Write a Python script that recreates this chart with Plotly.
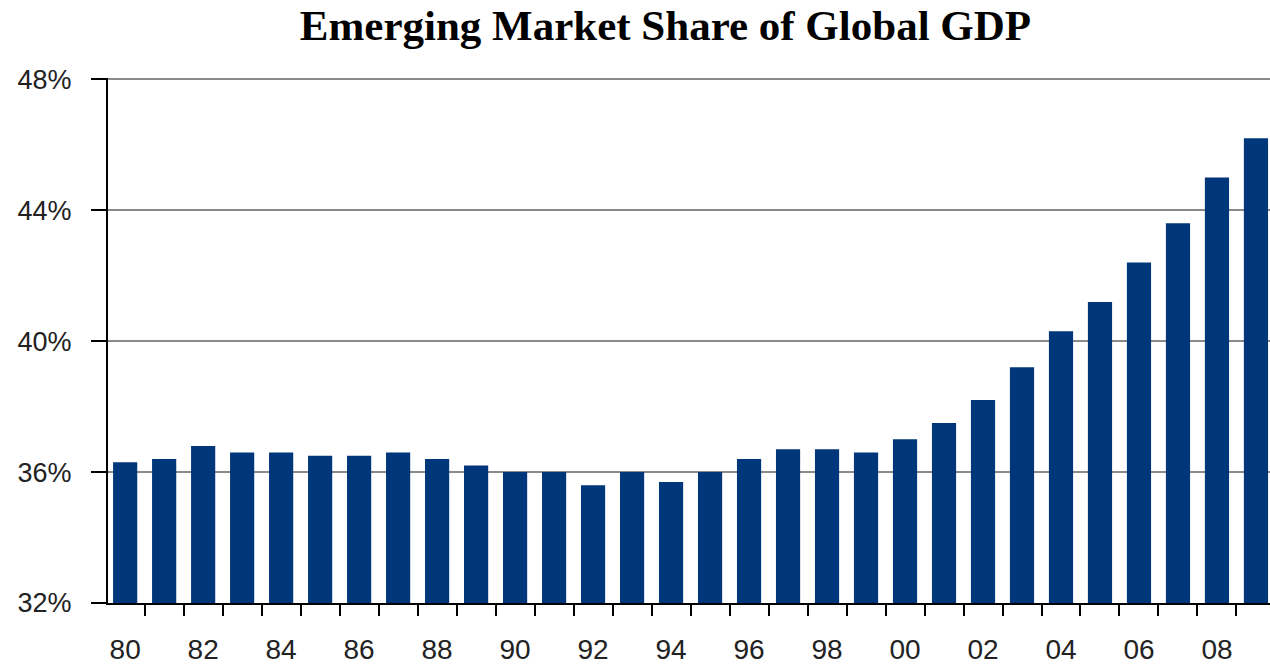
import plotly.graph_objects as go

years = ["80", "81", "82", "83", "84", "85", "86", "87", "88", "89",
         "90", "91", "92", "93", "94", "95", "96", "97", "98", "99",
         "00", "01", "02", "03", "04", "05", "06", "07", "08", "09"]
share = [36.3, 36.4, 36.8, 36.6, 36.6, 36.5, 36.5, 36.6, 36.4, 36.2,
         36.0, 36.0, 35.6, 36.0, 35.7, 36.0, 36.4, 36.7, 36.7, 36.6,
         37.0, 37.5, 38.2, 39.2, 40.3, 41.2, 42.4, 43.6, 45.0, 46.2]
tick_labels = [y if i % 2 == 0 else "" for i, y in enumerate(years)]
y_ticks = [32, 36, 40, 44, 48]

fig = go.Figure(go.Bar(
    x=years, y=share, marker=dict(color="#00377a", line=dict(width=0)),
))

fig.update_layout(
    width=1270, height=667,
    margin=dict(l=108, r=0, t=78, b=64, autoexpand=False),
    paper_bgcolor="white", plot_bgcolor="white",
    bargap=0.38, showlegend=False,
    title=dict(text="<b>Emerging Market Share of Global GDP</b>",
               x=0.524, xanchor="center", y=0.962, yanchor="middle",
               font=dict(family="Liberation Serif", size=43, color="black")),
)
fig.update_xaxes(
    type="category", categoryorder="array", categoryarray=years,
    range=[-0.44, 29.36], automargin=False,
    tickmode="array", tickvals=years, ticktext=tick_labels,
    tickson="boundaries", ticks="outside", ticklen=11, tickwidth=2, tickcolor="black",
    showline=True, linecolor="black", linewidth=2,
    showgrid=False, tickangle=0,
    tickfont=dict(family="Liberation Sans", size=28, color="#222"),
    ticklabelstandoff=20,
)
fig.update_yaxes(
    range=[32, 48.04], automargin=False,
    tickmode="array", tickvals=y_ticks,
    ticktext=[f"{v}%" for v in y_ticks],
    ticks="outside", ticklen=15, tickwidth=2, tickcolor="black",
    showline=True, linecolor="black", linewidth=2,
    showgrid=True, gridcolor="#8a8a8a", gridwidth=2,
    zeroline=False,
    tickfont=dict(family="Liberation Sans", size=27, color="#222"),
    ticklabelstandoff=14,
)

fig.write_html("out.html", config={"displayModeBar": False},
               post_script="document.body.style.margin='0';document.body.style.overflow='hidden';")
